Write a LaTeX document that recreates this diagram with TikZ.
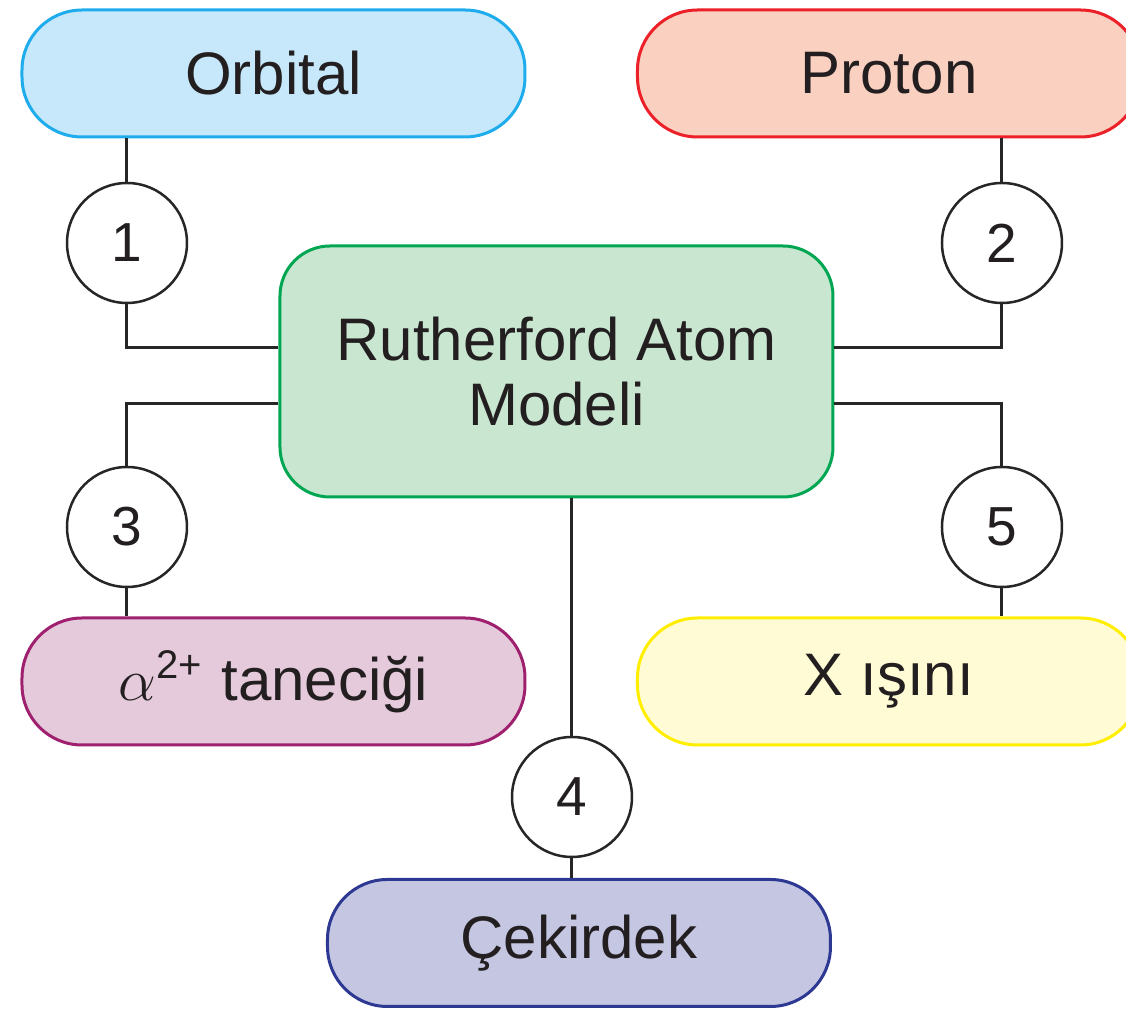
\documentclass[tikz,border=0pt]{standalone}
\usepackage{fontspec}
\setmainfont{Liberation Sans}
\usetikzlibrary{calc}

\definecolor{txtcol}{RGB}{35,31,32}
\definecolor{orbfill}{RGB}{198,232,250}
\definecolor{orbdraw}{RGB}{30,172,236}
\definecolor{profill}{RGB}{250,208,192}
\definecolor{prodraw}{RGB}{236,32,40}
\definecolor{modfill}{RGB}{201,230,209}
\definecolor{moddraw}{RGB}{0,166,81}
\definecolor{alpfill}{RGB}{228,202,219}
\definecolor{alpdraw}{RGB}{158,32,110}
\definecolor{xrafill}{RGB}{255,251,212}
\definecolor{xradraw}{RGB}{255,238,0}
\definecolor{cekfill}{RGB}{196,198,226}
\definecolor{cekdraw}{RGB}{44,56,146}

\tikzset{
  pill/.style={draw, line width=0.6pt, rounded corners=12pt, minimum width=100.6pt,
    minimum height=25.4pt, inner sep=0pt, text=txtcol, font=\fontsize{12}{13}\selectfont},
  numcirc/.style={draw=black!85, circle, fill=white, line width=0.5pt, minimum size=24pt,
    inner sep=0pt, text=txtcol, font=\fontsize{11}{12}\selectfont},
  link/.style={draw=black!85, line width=0.6pt},
}

\begin{document}
\begin{tikzpicture}[x=0.2pt,y=0.2pt,yscale=-1,xscale=1]
\clip (0,0) rectangle (1126,1012);

%Rounded Rect: model
\node[pill, fill=modfill, draw=moddraw, rounded corners=10pt, minimum width=110.6pt,
  minimum height=50.2pt, align=center] (model) at (556.5,371.5) {Rutherford Atom\\Modeli};
%Rounded Rect: outer boxes
\node[pill, fill=orbfill, draw=orbdraw] (orb) at (273.5,73.5) {Orbital};
\node[pill, fill=profill, draw=prodraw] (pro) at (889,73.5) {Proton};
\node[pill, fill=alpfill, draw=alpdraw] (alp) at (273.5,681.5) {$\alpha$\textsuperscript{2+} taneciği};
\node[pill, fill=xrafill, draw=xradraw] (xra) at (889,681.5) {X ışını};
\node[pill, fill=cekfill, draw=cekdraw] (cek) at (579,943) {Çekirdek};

%Shape: Circle
\node[numcirc] (n1) at (127,243) {1};
\node[numcirc] (n2) at (1002,243) {2};
\node[numcirc] (n3) at (127,527) {3};
\node[numcirc] (n4) at (572,797) {4};
\node[numcirc] (n5) at (1002,527) {5};

%Straight Lines
\draw[link] (n1 |- orb.south) -- (n1.north);
\draw[link] (n1.south) |- ([yshift=-4.7pt]model.west);
\draw[link] (n2 |- pro.south) -- (n2.north);
\draw[link] (n2.south) |- ([yshift=-4.7pt]model.east);
\draw[link] ([yshift=6.5pt]model.west) -| (n3.north);
\draw[link] (n3.south) -- (n3 |- alp.north);
\draw[link] ([yshift=6.5pt]model.east) -| (n5.north);
\draw[link] (n5.south) -- (n5 |- xra.north);
\draw[link] (n4 |- model.south) -- (n4.north);
\draw[link] (n4.south) -- (n4 |- cek.north);
\end{tikzpicture}
\end{document}
